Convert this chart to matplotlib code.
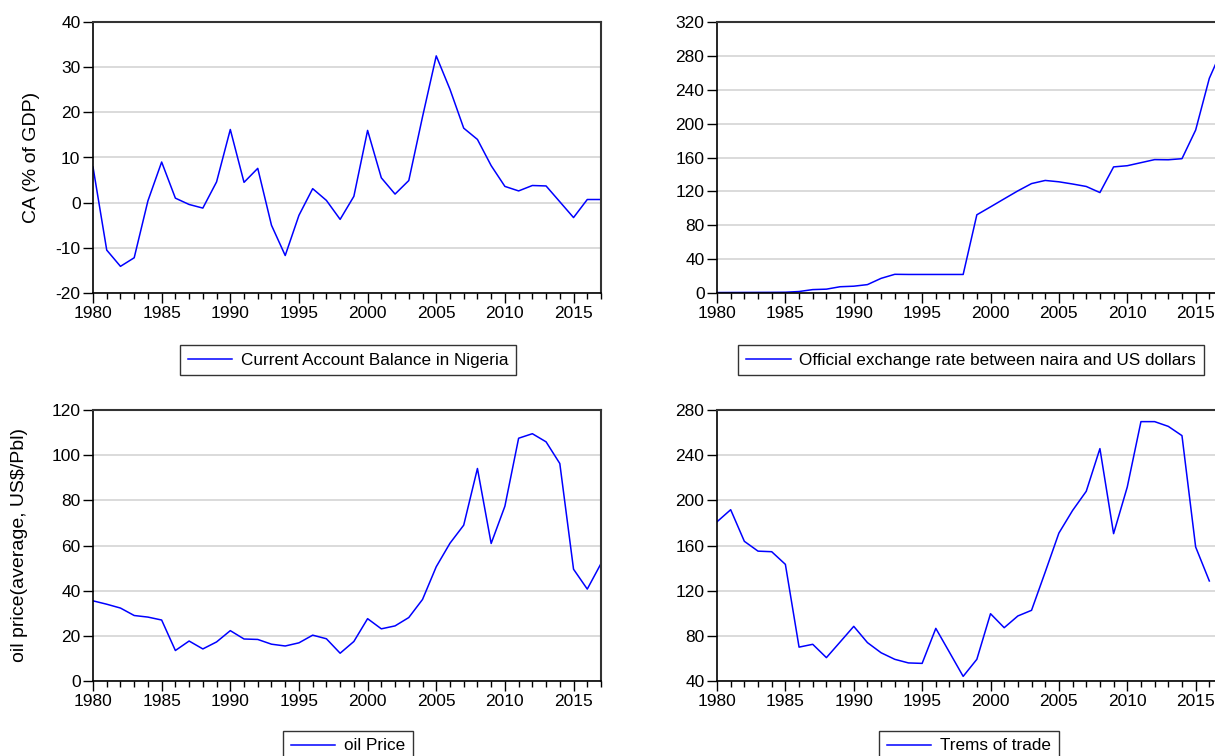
import matplotlib.pyplot as plt
from matplotlib.ticker import MultipleLocator

# Data
years = list(range(1980, 2018))

ca_gdp = [7.9, -10.5, -14.1, -12.2, 0.4, 9.0, 1.0, -0.4, -1.2, 4.6,
          16.2, 4.5, 7.6, -5.0, -11.7, -2.8, 3.1, 0.5, -3.7, 1.4,
          16.0, 5.5, 1.9, 4.9, 19.0, 32.5, 25.1, 16.5, 14.0, 8.2,
          3.6, 2.6, 3.8, 3.7, 0.2, -3.3, 0.7, 0.7]

exchange_rate = [0.55, 0.61, 0.67, 0.72, 0.77, 0.89, 1.75, 4.02, 4.54, 7.39,
                 8.04, 9.91, 17.3, 22.07, 21.89, 21.89, 21.89, 21.89, 21.89, 92.34,
                 101.7, 111.2, 120.6, 129.2, 132.9, 131.3, 128.7, 125.8, 118.6, 148.9,
                 150.3, 153.9, 157.5, 157.3, 158.6, 192.4, 253.5, 290.0]

oil_price = [35.5, 34.0, 32.3, 29.0, 28.3, 27.0, 13.5, 17.7, 14.2, 17.3,
             22.3, 18.6, 18.4, 16.3, 15.5, 16.9, 20.3, 18.7, 12.3, 17.5,
             27.6, 23.1, 24.4, 28.1, 36.1, 50.6, 61.0, 69.0, 94.1, 60.9,
             77.4, 107.5, 109.5, 105.9, 96.3, 49.5, 40.7, 52.0]

tot_years = list(range(1980, 2017))
terms_of_trade = [181, 191.7, 163.7, 155, 154.5, 143.3, 70, 72.5, 60.7, 74.5,
                  88.4, 74, 65, 59.2, 56, 55.6, 86.6, 65.4, 44.1, 59.2,
                  99.6, 87.2, 97.6, 102.6, 136.5, 171, 191, 208, 245.8, 170.5,
                  211.8, 269.7, 269.7, 265.5, 257.3, 158.7, 128.6]

plt.rcParams['font.family'] = ['Liberation Sans', 'DejaVu Sans']
plt.rcParams['axes.unicode_minus'] = False

fig = plt.figure(figsize=(12.15, 7.56), dpi=100)

W, H = 1215, 756


def make_axes(x0, y_top, x1, y_bot):
    return fig.add_axes([x0 / W, 1 - y_bot / H, (x1 - x0) / W, (y_bot - y_top) / H])


def style(ax, ymin, ymax, ystep):
    ax.set_xlim(1980, 2017)
    ax.set_ylim(ymin, ymax)
    ax.xaxis.set_major_locator(MultipleLocator(5))
    ax.xaxis.set_minor_locator(MultipleLocator(1))
    ax.yaxis.set_major_locator(MultipleLocator(ystep))
    ax.tick_params(axis='both', which='major', direction='out', length=7,
                   width=1, labelsize=12.5, colors='black', pad=2)
    ax.tick_params(axis='x', which='minor', direction='out', length=4, width=1)
    ax.grid(axis='y', color='#d4d4d4', linewidth=1.2)
    ax.set_axisbelow(True)
    for side in ['left', 'bottom']:
        ax.spines[side].set_color('black')
        ax.spines[side].set_linewidth(1.2)
    for side in ['top', 'right']:
        ax.spines[side].set_color('#333333')
        ax.spines[side].set_linewidth(1.5)


def add_legend(ax, cx, cy):
    leg = ax.legend(loc='center', bbox_to_anchor=(cx / W, 1 - cy / H),
                    bbox_transform=fig.transFigure, frameon=True, fancybox=False,
                    edgecolor='black', fontsize=12.3, handlelength=2.6,
                    borderpad=0.45, handletextpad=0.5, borderaxespad=0)
    leg.get_frame().set_linewidth(1.0)


# Current account
ax1 = make_axes(93, 22, 601, 293)
ax1.plot(years, ca_gdp, color='#0000ff', linewidth=1.1,
         label='Current Account Balance in Nigeria')
style(ax1, -20, 40, 10)
ax1.set_ylabel('CA (% of GDP)', fontsize=14)
ax1.yaxis.set_label_coords(-0.105, 0.5)
add_legend(ax1, 348, 360)

# Exchange rate
ax2 = make_axes(717, 22, 1223, 293)
ax2.plot(years, exchange_rate, color='#0000ff', linewidth=1.1,
         label='Official exchange rate between naira and US dollars')
style(ax2, 0, 320, 40)
add_legend(ax2, 971, 360)

# Oil price
ax3 = make_axes(93, 410, 601, 681)
ax3.plot(years, oil_price, color='#0000ff', linewidth=1.1, label='oil Price')
style(ax3, 0, 120, 20)
ax3.set_ylabel('oil price(average, US$/Pbl)', fontsize=14)
ax3.yaxis.set_label_coords(-0.128, 0.5)
add_legend(ax3, 348, 746)

# Terms of trade
ax4 = make_axes(717, 410, 1223, 681)
ax4.plot(tot_years, terms_of_trade, color='#0000ff', linewidth=1.1,
         label='Trems of trade')
style(ax4, 40, 280, 40)
add_legend(ax4, 969, 746)

fig.savefig('out.png', dpi=100)
